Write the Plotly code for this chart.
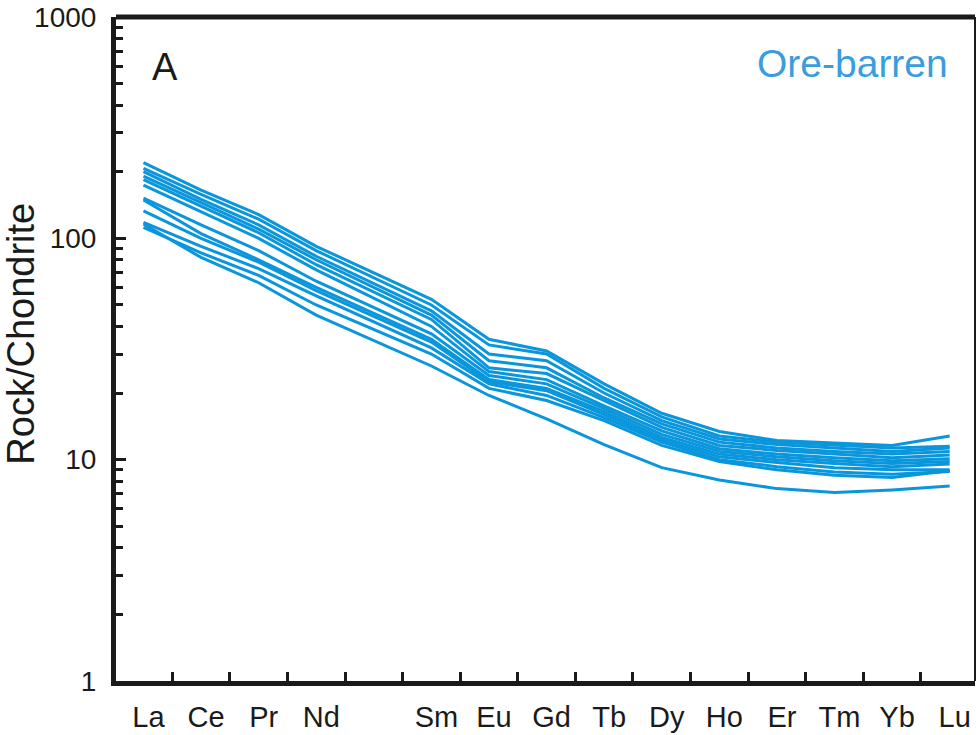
import plotly.graph_objects as go

# REE sequence (Pm kept as an unlabeled slot)
ree_all = ["La", "Ce", "Pr", "Nd", "Pm", "Sm", "Eu", "Gd", "Tb", "Dy", "Ho", "Er", "Tm", "Yb", "Lu"]
elements = ["La", "Ce", "Pr", "Nd", "Sm", "Eu", "Gd", "Tb", "Dy", "Ho", "Er", "Tm", "Yb", "Lu"]

s1 = [220, 165, 128, 92, 53, 35, 31, 22, 16.2, 13.4, 12.2, 11.9, 11.6, 12.8]
s2 = [207, 158, 122, 88, 50, 33, 30, 21, 15.6, 12.8, 12.0, 11.6, 11.3, 11.5]
s3 = [200, 150, 115, 83, 47, 30, 28, 20, 15.0, 12.4, 11.7, 11.3, 10.9, 11.3]
s4 = [191, 145, 110, 80, 45, 28, 26, 19, 14.5, 12.0, 11.3, 10.9, 10.6, 10.9]
s5 = [184, 140, 106, 76, 43, 26, 24.5, 18.5, 14.0, 11.6, 11.0, 10.6, 10.2, 10.5]
s6 = [174, 132, 100, 72, 40, 25, 23, 17.5, 13.5, 11.2, 10.6, 10.2, 9.9, 10.1]
s7 = [152, 115, 88, 64, 37, 24, 22, 17.0, 13.0, 10.9, 10.3, 9.9, 9.6, 9.8]
s8 = [149, 105, 80, 60, 35, 23, 21, 16.5, 12.6, 10.6, 10.0, 9.6, 9.3, 9.55]
s9 = [133, 100, 78, 58, 34, 22.5, 20.5, 16.0, 12.3, 10.3, 9.7, 9.2, 9.0, 9.0]
s10 = [118, 92, 73, 55, 32, 22, 19.5, 15.5, 12.0, 10.0, 9.3, 8.8, 8.6, 8.85]
s11 = [112, 86, 68, 50, 30, 21, 18.5, 15.0, 11.6, 9.8, 9.0, 8.5, 8.3, 8.9]
s12 = [116, 82, 63, 45, 26.5, 19.5, 15.3, 11.7, 9.2, 8.1, 7.4, 7.1, 7.3, 7.6]

series = [s1, s2, s3, s4, s5, s6, s7, s8, s9, s10, s11, s12]

y_tickvals = [1, 10, 100, 1000]
y_ticktext = ["1", "10", "100", "1000"]

line_color = "#0a96dc"
ink = "#1a1a1a"
font_family = "Liberation Sans, Arial, sans-serif"

x_pos = [ree_all.index(e) for e in elements]

fig = go.Figure()
for s in series:
    fig.add_trace(go.Scatter(
        x=x_pos, y=s, mode="lines",
        line=dict(color=line_color, width=3),
        showlegend=False, hoverinfo="skip",
    ))

fig.update_layout(
    width=976, height=735,
    margin=dict(l=116, r=1, t=17, b=54),
    paper_bgcolor="white", plot_bgcolor="white",
    font=dict(family=font_family, color=ink),
)

fig.update_xaxes(
    range=[-0.477, 14.44],
    automargin=False,
    tickmode="array",
    tickvals=x_pos,
    ticktext=elements,
    ticks="",
    tickfont=dict(size=29, color=ink),
    ticklabelstandoff=6,
    ticklabelshift=5,
    showgrid=False, zeroline=False,
    showline=True, linewidth=5, linecolor=ink,
    minor=dict(ticks="inside", tick0=0.5, dtick=1, ticklen=9, tickwidth=3, tickcolor=ink, showgrid=False),
)

fig.update_yaxes(
    type="log",
    range=[0, 3],
    automargin=False,
    tickmode="array",
    tickvals=y_tickvals,
    ticktext=y_ticktext,
    ticks="inside", ticklen=10, tickwidth=3, tickcolor=ink,
    tickfont=dict(size=28, color=ink),
    ticklabelstandoff=9,
    showgrid=False, zeroline=False,
    showline=True, linewidth=5, linecolor=ink,
    minor=dict(ticks="inside", ticklen=7, tickwidth=3, tickcolor=ink, dtick="D1", showgrid=False),
)

# frame: thick top, thin right
fig.add_shape(type="line", xref="paper", yref="paper", x0=0, x1=1, y0=1, y1=1,
              line=dict(color=ink, width=5), layer="above")
fig.add_shape(type="line", xref="paper", yref="paper", x0=1, x1=1, y0=0, y1=1,
              line=dict(color=ink, width=2), layer="above")

# y-axis title
fig.add_annotation(text="Rock/Chondrite", xref="paper", yref="paper", x=-0.111, y=0.5226,
                   textangle=-90, showarrow=False, font=dict(size=38, color=ink),
                   xanchor="center", yanchor="middle")

fig.add_annotation(text="A", xref="paper", yref="paper", x=0.057, y=0.924,
                   showarrow=False, font=dict(size=38, color=ink), xanchor="center", yanchor="middle")
fig.add_annotation(text="Ore-barren", xref="paper", yref="paper", x=0.971, y=0.93,
                   showarrow=False, font=dict(size=39, color="#3a9ddc"), xanchor="right", yanchor="middle")

fig.write_html("out.html")
